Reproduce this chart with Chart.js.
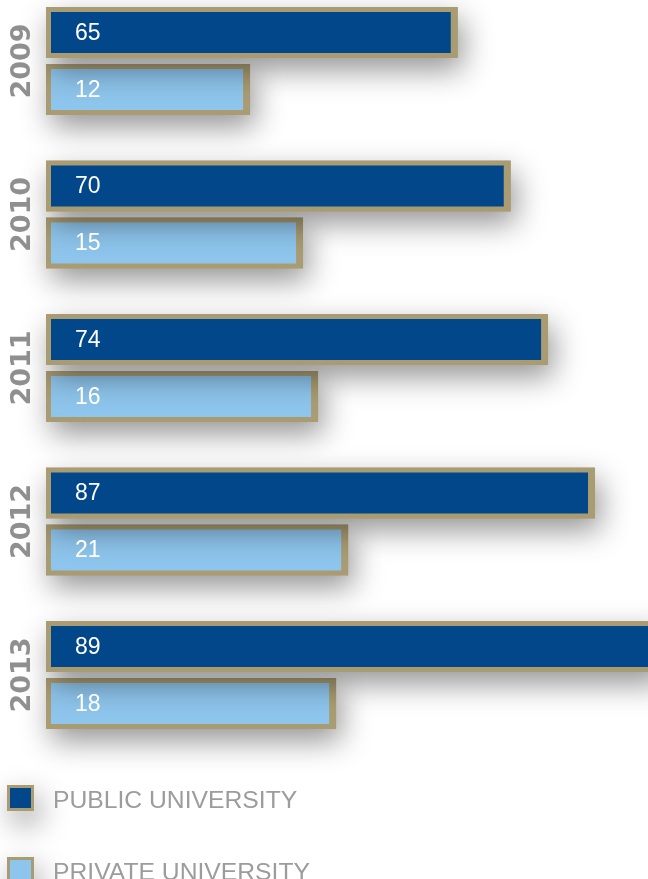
<!DOCTYPE html>
<html><head><meta charset="utf-8">
<script src="https://cdn.jsdelivr.net/npm/chart.js@4.4.1/dist/chart.umd.min.js"></script>
<style>html,body{margin:0;padding:0;background:#fff;overflow:hidden;}canvas{display:block;}</style>
</head><body>
<canvas id="c" width="648" height="879"></canvas>
<script>
const years = ['2009', '2010', '2011', '2012', '2013'];
const seriesNames = ['PUBLIC UNIVERSITY', 'PRIVATE UNIVERSITY'];
// numbers printed on the bars
const publicValues = [65, 70, 74, 87, 89];
const privateValues = [12, 15, 16, 21, 18];
// bar lengths as drawn in the infographic (relative units, not to scale with the printed numbers)
const publicBarLengths = [68.4, 77.2, 83.4, 91.2, 102];
const privateBarLengths = [33.9, 42.7, 45.2, 50.2, 48.2];

const colors = { pub: '#02478a', priv: '#8ec5ec', border: '#aa9c72', year: '#8f8f8f', legend: '#9c9c9e' };

function setShadow(ctx) {
  ctx.shadowColor = 'rgba(0,0,0,0.42)';
  ctx.shadowBlur = 30;
  ctx.shadowOffsetX = 5;
  ctx.shadowOffsetY = 12;
}

const shadowPlugin = {
  id: 'barShadow',
  beforeDatasetDraw(chart, args) {
    const ctx = chart.ctx;
    ctx.save();
    setShadow(ctx);
    ctx.fillStyle = colors.border;
    args.meta.data.forEach(el => {
      const p = el.getProps(['x', 'y', 'base', 'height'], true);
      const left = Math.min(p.base, p.x), w = Math.abs(p.x - p.base);
      ctx.fillRect(left, p.y - p.height / 2, w, p.height);
    });
    ctx.restore();
  }
};

const labelPlugin = {
  id: 'labels',
  afterDatasetsDraw(chart) {
    const ctx = chart.ctx;
    const xs = chart.scales.x, ys = chart.scales.y;
    const printed = [publicValues, privateValues];
    ctx.save();
    ctx.font = '23px "Liberation Sans", Arial, sans-serif';
    ctx.fillStyle = '#ffffff';
    ctx.textAlign = 'left';
    ctx.textBaseline = 'middle';
    chart.data.datasets.forEach((ds, di) => {
      chart.getDatasetMeta(di).data.forEach((el, i) => {
        ctx.fillText(String(printed[di][i]), xs.getPixelForValue(0) + 29, el.y + 1);
      });
    });
    ctx.font = 'bold 27px "DejaVu Sans", sans-serif';
    ctx.fillStyle = colors.year;
    ctx.textAlign = 'center';
    ctx.textBaseline = 'middle';
    years.forEach((yr, i) => {
      ctx.save();
      ctx.translate(23, ys.getPixelForValue(i));
      ctx.rotate(-Math.PI / 2);
      ctx.fillText(yr, 0, 0);
      ctx.restore();
    });
    const legendTop = [785, 857];
    chart.data.datasets.forEach((ds, di) => {
      const top = legendTop[di];
      ctx.save();
      setShadow(ctx);
      ctx.fillStyle = colors.border;
      ctx.fillRect(7, top, 27, 26);
      ctx.restore();
      ctx.fillStyle = ds.backgroundColor;
      ctx.fillRect(10, top + 3, 21, 20);
      ctx.font = '24.7px "Liberation Sans", Arial, sans-serif';
      ctx.fillStyle = colors.legend;
      ctx.textAlign = 'left';
      ctx.textBaseline = 'alphabetic';
      ctx.fillText(ds.label, 53, top + 23);
    });
    ctx.restore();
  }
};

new Chart(document.getElementById('c'), {
  type: 'bar',
  data: {
    labels: years,
    datasets: [
      { label: seriesNames[0], data: publicBarLengths, backgroundColor: colors.pub },
      { label: seriesNames[1], data: privateBarLengths, backgroundColor: colors.priv }
    ]
  },
  options: {
    indexAxis: 'y',
    responsive: false,
    animation: false,
    events: [],
    layout: { padding: { left: 46, right: 0, top: 61, bottom: 204 } },
    datasets: {
      bar: {
        borderColor: colors.border,
        borderWidth: { top: 5, bottom: 5, left: 5, right: 7 },
        borderSkipped: false,
        categoryPercentage: 0.742,
        barPercentage: 0.8947,
        clip: false
      }
    },
    scales: {
      x: { display: false, min: 0, max: 100 },
      y: { display: false, offset: false }
    },
    plugins: { legend: { display: false }, tooltip: { enabled: false } }
  },
  plugins: [shadowPlugin, labelPlugin]
});
</script>
</body></html>
